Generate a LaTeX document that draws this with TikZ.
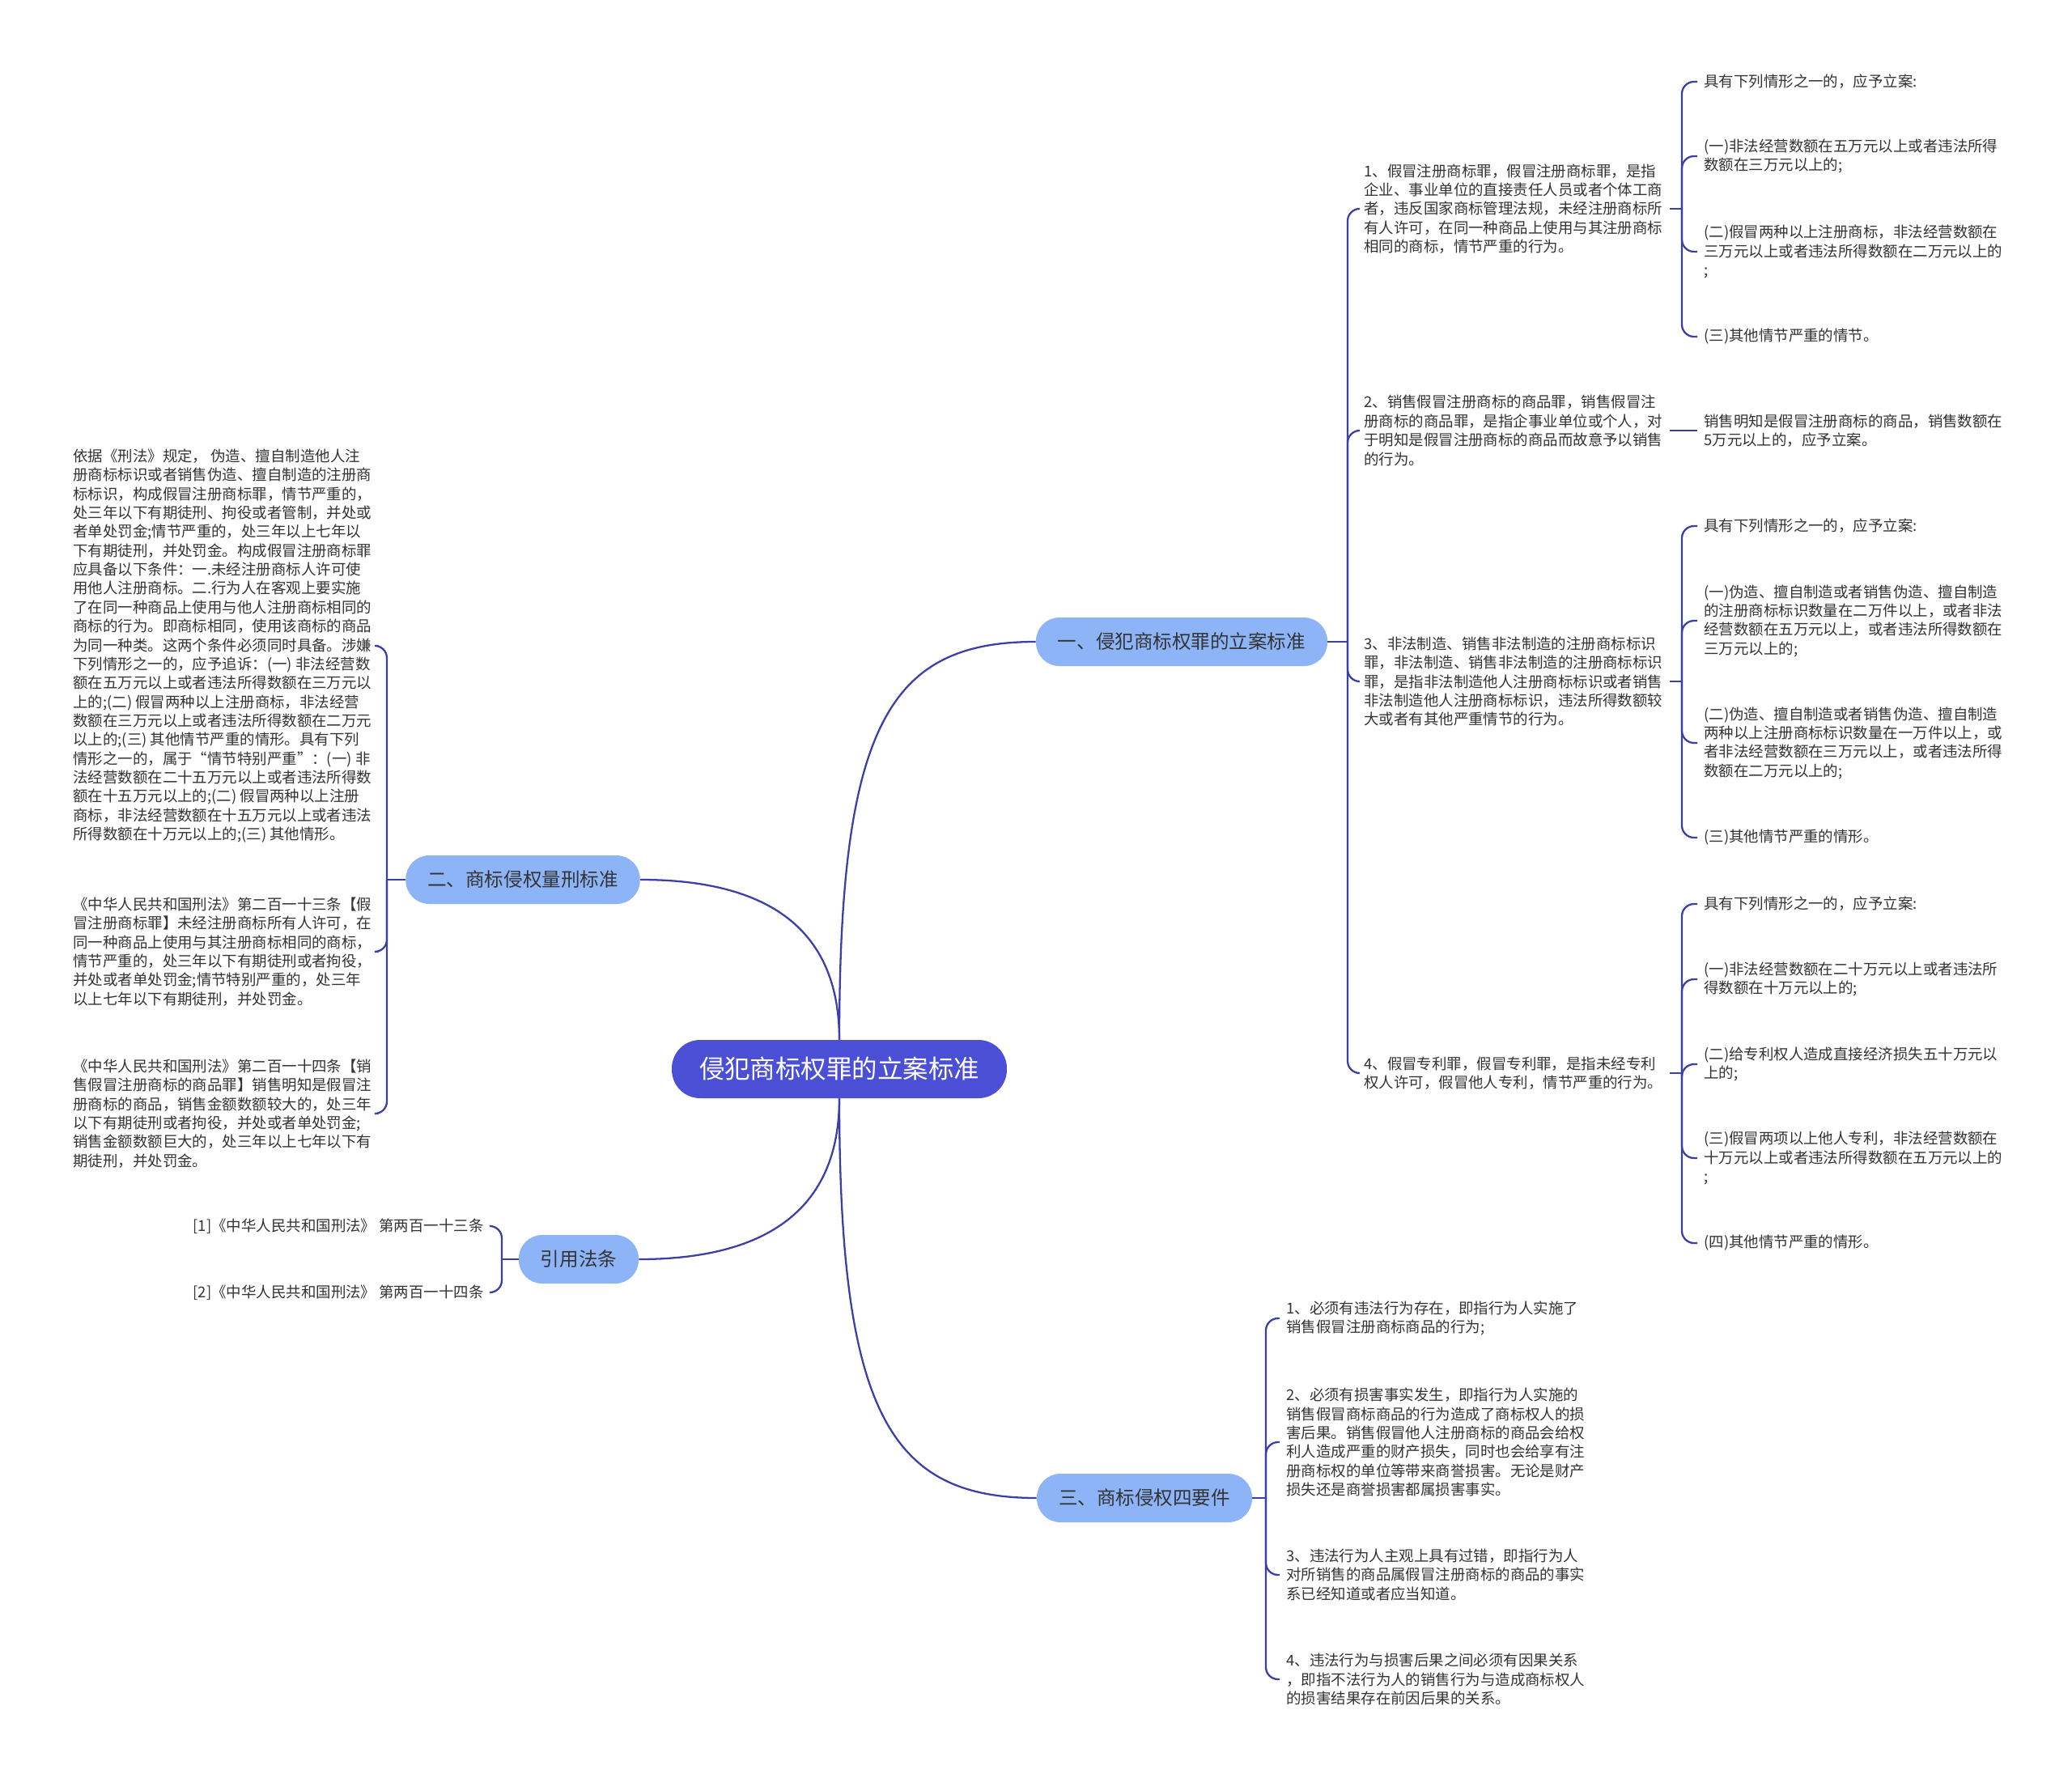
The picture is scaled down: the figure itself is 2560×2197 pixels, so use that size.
\documentclass[tikz,border=0pt]{standalone}
\usepackage{fontspec}
\setmainfont{Noto Sans CJK SC}
\usetikzlibrary{positioning}

\definecolor{rootc}{HTML}{4A4FD6}
\definecolor{mainc}{HTML}{8DB4F7}
\definecolor{linec}{HTML}{3B3FA8}
\definecolor{textc}{HTML}{333333}

\newcommand\leaffont{\fontsize{10.5pt}{13.3pt}\selectfont}

\tikzset{
  rootbox/.style={fill=rootc, text=white, rounded corners=0.7cm, minimum height=1.44cm,
    inner xsep=0.68cm, font=\fontsize{17.9pt}{20pt}\selectfont},
  mainbox/.style={fill=mainc, text=textc, rounded corners=0.58cm, minimum height=1.2cm,
    inner xsep=0.54cm, font=\fontsize{13.4pt}{16pt}\selectfont},
  leaf/.style={align=left, text=textc, font=\leaffont, inner xsep=0.16cm, inner ysep=0pt},
  edge/.style={draw=linec, line width=1.3pt},
  tree/.style={edge, rounded corners=0.3cm}
}

\begin{document}
\begin{tikzpicture}[x=0.02cm,y=-0.02cm]
\fill[white] (0,0) rectangle (2560,2197);
\useasboundingbox (0,0) rectangle (2560,2197);

\node[rootbox] (root) at (1037,1321) {侵犯商标权罪的立案标准};
\node[mainbox] (lian) at (1460,793) {一、侵犯商标权罪的立案标准};
\node[mainbox] (xing) at (646,1087) {二、商标侵权量刑标准};
\node[mainbox] (fa) at (715,1556) {引用法条};
\node[mainbox] (yao) at (1414,1851) {三、商标侵权四要件};

\draw[edge] (root.north) .. controls +(0,-390) and +(-180,0) .. (lian.west);
\draw[edge] (root.north) .. controls +(0,-150) and +(140,0) .. (xing.east);
\draw[edge] (root.south) .. controls +(0,150) and +(140,0) .. (fa.east);
\draw[edge] (root.south) .. controls +(0,390) and +(-180,0) .. (yao.west);

% 一、立案标准
\node[leaf, anchor=west] (l1) at (1677,258) {1、假冒注册商标罪，假冒注册商标罪，是指\\企业、事业单位的直接责任人员或者个体工商\\者，违反国家商标管理法规，未经注册商标所\\有人许可，在同一种商品上使用与其注册商标\\相同的商标，情节严重的行为。};
\node[leaf, anchor=west] (l2) at (1677,532) {2、销售假冒注册商标的商品罪，销售假冒注\\册商标的商品罪，是指企事业单位或个人，对\\于明知是假冒注册商标的商品而故意予以销售\\的行为。};
\node[leaf, anchor=west] (l3) at (1677,842) {3、非法制造、销售非法制造的注册商标标识\\罪，非法制造、销售非法制造的注册商标标识\\罪，是指非法制造他人注册商标标识或者销售\\非法制造他人注册商标标识，违法所得数额较\\大或者有其他严重情节的行为。};
\node[leaf, anchor=west] (l4) at (1677,1326) {4、假冒专利罪，假冒专利罪，是指未经专利\\权人许可，假冒他人专利，情节严重的行为。};

\node[leaf, anchor=west] (l1a) at (2097,101) {具有下列情形之一的，应予立案:};
\node[leaf, anchor=west] (l1b) at (2097,193) {(一)非法经营数额在五万元以上或者违法所得\\数额在三万元以上的;};
\node[leaf, anchor=west] (l1c) at (2097,311) {(二)假冒两种以上注册商标，非法经营数额在\\三万元以上或者违法所得数额在二万元以上的\\;};
\node[leaf, anchor=west] (l1d) at (2097,416) {(三)其他情节严重的情节。};
\node[leaf, anchor=west] (l2a) at (2097,532) {销售明知是假冒注册商标的商品，销售数额在\\5万元以上的，应予立案。};
\node[leaf, anchor=west] (l3a) at (2097,650) {具有下列情形之一的，应予立案:};
\node[leaf, anchor=west] (l3b) at (2097,767) {(一)伪造、擅自制造或者销售伪造、擅自制造\\的注册商标标识数量在二万件以上，或者非法\\经营数额在五万元以上，或者违法所得数额在\\三万元以上的;};
\node[leaf, anchor=west] (l3c) at (2097,918) {(二)伪造、擅自制造或者销售伪造、擅自制造\\两种以上注册商标标识数量在一万件以上，或\\者非法经营数额在三万元以上，或者违法所得\\数额在二万元以上的;};
\node[leaf, anchor=west] (l3d) at (2097,1035) {(三)其他情节严重的情形。};
\node[leaf, anchor=west] (l4a) at (2097,1117) {具有下列情形之一的，应予立案:};
\node[leaf, anchor=west] (l4b) at (2097,1210) {(一)非法经营数额在二十万元以上或者违法所\\得数额在十万元以上的;};
\node[leaf, anchor=west] (l4c) at (2097,1315) {(二)给专利权人造成直接经济损失五十万元以\\上的;};
\node[leaf, anchor=west] (l4d) at (2097,1431) {(三)假冒两项以上他人专利，非法经营数额在\\十万元以上或者违法所得数额在五万元以上的\\;};
\node[leaf, anchor=west] (l4e) at (2097,1536) {(四)其他情节严重的情形。};

\coordinate (lianj) at (1665,793);
\draw[edge] (lian.east) -- (lianj);
\foreach \c in {l1,l2,l3,l4} \draw[tree] (lianj) |- (\c.west);

\coordinate (gx) at (2078,0);
\coordinate (l1j) at (l1.east -| gx);
\coordinate (l2j) at (l2.east -| gx);
\coordinate (l3j) at (l3.east -| gx);
\coordinate (l4j) at (l4.east -| gx);
\draw[edge] (l1.east) -- (l1j);
\draw[edge] (l2.east) -- (l2j);
\draw[edge] (l3.east) -- (l3j);
\draw[edge] (l4.east) -- (l4j);
\foreach \c in {l1a,l1b,l1c,l1d} \draw[tree] (l1j) |- (\c.west);
\draw[edge] (l2j) -- (l2a.west);
\foreach \c in {l3a,l3b,l3c,l3d} \draw[tree] (l3j) |- (\c.west);
\foreach \c in {l4a,l4b,l4c,l4d,l4e} \draw[tree] (l4j) |- (\c.west);

% 二、量刑标准
\node[leaf, anchor=west] (x1) at (82,798) {依据《刑法》规定， 伪造、擅自制造他人注\\册商标标识或者销售伪造、擅自制造的注册商\\标标识，构成假冒注册商标罪，情节严重的，\\处三年以下有期徒刑、拘役或者管制，并处或\\者单处罚金;情节严重的，处三年以上七年以\\下有期徒刑，并处罚金。构成假冒注册商标罪\\应具备以下条件：一.未经注册商标人许可使\\用他人注册商标。二.行为人在客观上要实施\\了在同一种商品上使用与他人注册商标相同的\\商标的行为。即商标相同，使用该商标的商品\\为同一种类。这两个条件必须同时具备。涉嫌\\下列情形之一的，应予追诉：(一) 非法经营数\\额在五万元以上或者违法所得数额在三万元以\\上的;(二) 假冒两种以上注册商标，非法经营\\数额在三万元以上或者违法所得数额在二万元\\以上的;(三) 其他情节严重的情形。具有下列\\情形之一的，属于“情节特别严重”：(一) 非\\法经营数额在二十五万元以上或者违法所得数\\额在十五万元以上的;(二) 假冒两种以上注册\\商标，非法经营数额在十五万元以上或者违法\\所得数额在十万元以上的;(三) 其他情形。};
\node[leaf, anchor=west] (x2) at (82,1176) {《中华人民共和国刑法》第二百一十三条【假\\冒注册商标罪】未经注册商标所有人许可，在\\同一种商品上使用与其注册商标相同的商标，\\情节严重的，处三年以下有期徒刑或者拘役，\\并处或者单处罚金;情节特别严重的，处三年\\以上七年以下有期徒刑，并处罚金。};
\node[leaf, anchor=west] (x3) at (82,1376) {《中华人民共和国刑法》第二百一十四条【销\\售假冒注册商标的商品罪】销售明知是假冒注\\册商标的商品，销售金额数额较大的，处三年\\以下有期徒刑或者拘役，并处或者单处罚金;\\销售金额数额巨大的，处三年以上七年以下有\\期徒刑，并处罚金。};

\coordinate (xingj) at (478,1087);
\draw[edge] (xing.west) -- (xingj);
\foreach \c in {x1,x2,x3} \draw[tree] (xingj) |- (\c.east);

% 引用法条
\node[leaf, anchor=east] (f1) at (606,1515) {[1]《中华人民共和国刑法》 第两百一十三条};
\node[leaf, anchor=east] (f2) at (606,1597) {[2]《中华人民共和国刑法》 第两百一十四条};

\coordinate (faj) at (620,1556);
\draw[edge] (fa.west) -- (faj);
\foreach \c in {f1,f2} \draw[tree] (faj) |- (\c.east);

% 三、四要件
\node[leaf, anchor=west] (y1) at (1581,1629) {1、必须有违法行为存在，即指行为人实施了\\销售假冒注册商标商品的行为;};
\node[leaf, anchor=west] (y2) at (1581,1782) {2、必须有损害事实发生，即指行为人实施的\\销售假冒商标商品的行为造成了商标权人的损\\害后果。销售假冒他人注册商标的商品会给权\\利人造成严重的财产损失，同时也会给享有注\\册商标权的单位等带来商誉损害。无论是财产\\损失还是商誉损害都属损害事实。};
\node[leaf, anchor=west] (y3) at (1581,1946) {3、违法行为人主观上具有过错，即指行为人\\对所销售的商品属假冒注册商标的商品的事实\\系已经知道或者应当知道。};
\node[leaf, anchor=west] (y4) at (1581,2075) {4、违法行为与损害后果之间必须有因果关系\\，即指不法行为人的销售行为与造成商标权人\\的损害结果存在前因后果的关系。};

\coordinate (yaoj) at (1564,1851);
\draw[edge] (yao.east) -- (yaoj);
\foreach \c in {y1,y2,y3,y4} \draw[tree] (yaoj) |- (\c.west);
\end{tikzpicture}
\end{document}
